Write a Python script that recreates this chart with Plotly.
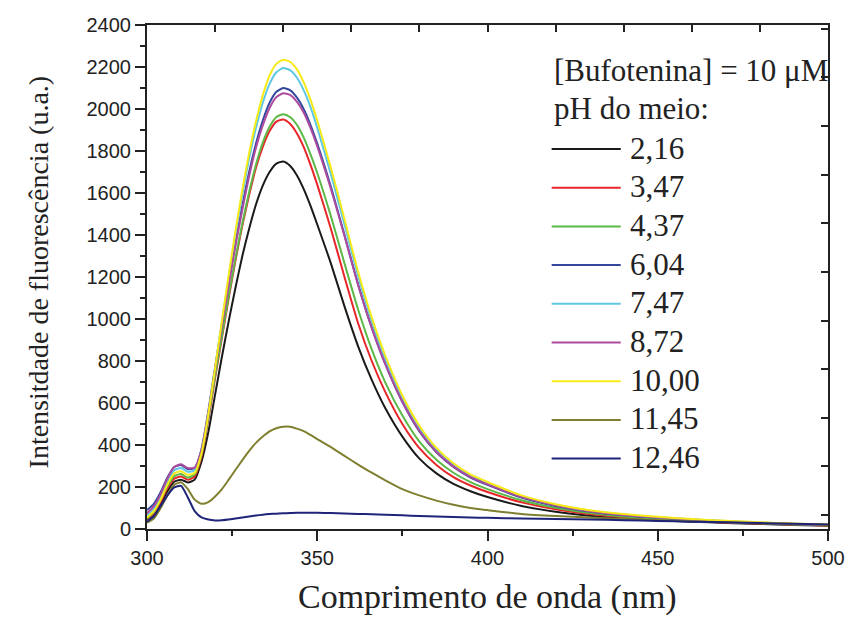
import plotly.graph_objects as go

wavelength = [300, 302, 304, 306, 308, 310, 312, 314, 316, 318, 320, 322, 324, 326, 328, 330,
              332, 334, 336, 338, 340, 342, 344, 346, 348, 350, 354, 358, 362, 366, 370, 375,
              380, 385, 390, 395, 400, 410, 420, 430, 440, 450, 460, 470, 480, 490, 500]

ph_2_16 = [45, 70, 120, 180, 225, 235, 222, 235, 320, 460, 640, 820, 990, 1150, 1300, 1430,
           1545, 1635, 1700, 1740, 1750, 1730, 1685, 1620, 1540, 1450, 1265, 1060, 870, 710, 575, 440,
           335, 265, 215, 180, 152, 110, 82, 63, 50, 42, 35, 29, 24, 19, 15]
ph_3_47 = [48, 75, 130, 195, 240, 250, 235, 250, 345, 520, 720, 910, 1100, 1280, 1445, 1590,
           1720, 1820, 1895, 1940, 1950, 1930, 1885, 1820, 1735, 1640, 1430, 1200, 980, 800, 652, 500,
           385, 305, 247, 207, 176, 127, 94, 71, 56, 46, 38, 31, 26, 21, 17]
ph_4_37 = [50, 80, 140, 205, 252, 262, 245, 260, 355, 530, 730, 920, 1110, 1290, 1455, 1605,
           1735, 1840, 1915, 1962, 1975, 1962, 1925, 1865, 1785, 1695, 1490, 1265, 1045, 855, 697, 540,
           416, 330, 268, 223, 190, 137, 101, 76, 60, 49, 40, 33, 27, 22, 18]
ph_6_04 = [90, 120, 175, 245, 295, 305, 285, 290, 380, 560, 770, 975, 1175, 1365, 1540, 1700,
           1835, 1945, 2030, 2082, 2100, 2090, 2055, 2000, 1925, 1835, 1630, 1400, 1165, 960, 785, 605,
           465, 365, 295, 245, 210, 150, 110, 83, 65, 53, 44, 36, 29, 23, 19]
ph_7_47 = [65, 95, 150, 225, 280, 290, 272, 280, 370, 550, 765, 985, 1200, 1405, 1595, 1765,
           1910, 2030, 2120, 2175, 2195, 2185, 2150, 2090, 2010, 1910, 1690, 1450, 1205, 990, 808, 622,
           480, 377, 305, 254, 218, 156, 115, 87, 69, 56, 46, 38, 31, 25, 20]
ph_8_72 = [75, 108, 165, 240, 295, 308, 290, 292, 375, 550, 760, 965, 1160, 1350, 1520, 1680,
           1815, 1922, 2005, 2057, 2075, 2067, 2035, 1983, 1910, 1822, 1620, 1395, 1162, 958, 785, 607,
           468, 368, 298, 248, 213, 153, 113, 85, 67, 55, 45, 37, 30, 24, 19]
ph_10_00 = [55, 85, 140, 212, 265, 275, 258, 268, 360, 545, 765, 990, 1210, 1420, 1615, 1790,
            1940, 2065, 2160, 2215, 2235, 2225, 2190, 2128, 2045, 1945, 1720, 1475, 1225, 1008, 825, 636,
            492, 386, 313, 260, 224, 160, 118, 89, 71, 58, 48, 39, 32, 26, 21]
ph_11_45 = [30, 50, 100, 160, 210, 222, 190, 140, 120, 128, 155, 190, 235, 282, 328, 372,
            410, 440, 465, 480, 487, 487, 478, 466, 448, 428, 390, 348, 307, 268, 232, 190,
            160, 135, 115, 100, 90, 72, 62, 55, 48, 42, 37, 32, 28, 24, 20]
ph_12_46 = [35, 60, 110, 160, 198, 205, 150, 85, 55, 45, 41, 42, 45, 50, 55, 60,
            64, 68, 71, 73, 75, 76, 77, 77, 77, 77, 76, 74, 72, 70, 68, 65,
            62, 60, 57, 55, 53, 50, 48, 45, 42, 38, 35, 32, 28, 25, 22]

series_labels = ["2,16", "3,47", "4,37", "6,04", "7,47", "8,72", "10,00", "11,45", "12,46"]
series_values = [ph_2_16, ph_3_47, ph_4_37, ph_6_04, ph_7_47, ph_8_72, ph_10_00, ph_11_45, ph_12_46]
series_colors = ["#1a1a1a", "#e8262a", "#5cb947", "#34489e", "#5ec7e6",
                 "#ad4c9f", "#f7eb17", "#7f7f30", "#1f2478"]

legend_header = ["[Bufotenina] = 10 μM", "pH do meio:"]
x_title = "Comprimento de onda (nm)"
y_title = "Intensitdade de fluorescência (u.a.)"

W, H = 857, 617
L, R, T, B = 147, 20, 25, 88
PW, PH = W - L - R, H - T - B

def px(xp):
    return (xp - L) / PW

def py(yp):
    return (H - B - yp) / PH

fig = go.Figure()
for lab, vals, col in zip(series_labels, series_values, series_colors):
    fig.add_trace(go.Scatter(x=wavelength, y=vals, mode="lines", name=lab,
                             line=dict(color=col, width=2, shape="spline", smoothing=0.6),
                             showlegend=False, hoverinfo="skip"))
fig.add_trace(go.Scatter(x=[], y=[], xaxis="x2", yaxis="y2", showlegend=False))

axis_col = "#222222"
tickfont = dict(family="Liberation Sans, Arial, sans-serif", size=20, color="#222")
serif = "Liberation Serif"

fig.update_layout(
    width=W, height=H, margin=dict(l=L, r=R, t=T, b=B),
    paper_bgcolor="white", plot_bgcolor="white",
    xaxis=dict(range=[300, 500], tick0=300, dtick=50, ticks="outside", ticklen=10, tickwidth=2,
               tickcolor=axis_col, showline=True, linewidth=2, linecolor=axis_col,
               showgrid=False, zeroline=False, tickfont=tickfont,
               minor=dict(dtick=25, ticks="outside", ticklen=5, tickwidth=2, tickcolor=axis_col)),
    yaxis=dict(range=[0, 2400], tick0=0, dtick=200, ticks="outside", ticklen=10, tickwidth=2,
               tickcolor=axis_col, showline=True, linewidth=2, linecolor=axis_col,
               showgrid=False, zeroline=False, tickfont=tickfont,
               minor=dict(dtick=100, ticks="outside", ticklen=5, tickwidth=2, tickcolor=axis_col)),
    xaxis2=dict(overlaying="x", side="top", range=[300, 500], tick0=300, dtick=20,
                ticks="inside", ticklen=7, tickwidth=2, tickcolor=axis_col,
                showline=True, linewidth=2, linecolor=axis_col, showticklabels=False,
                showgrid=False, zeroline=False),
    yaxis2=dict(overlaying="y", side="right", range=[-0.29, 10.08], tick0=0, dtick=1,
                ticks="inside", ticklen=7, tickwidth=2, tickcolor=axis_col,
                showline=True, linewidth=2, linecolor=axis_col, showticklabels=False,
                showgrid=False, zeroline=False),
)

ann = []
ann.append(dict(text=x_title, x=px(492), y=py(597), xref="paper", yref="paper",
                xanchor="center", yanchor="middle", showarrow=False,
                font=dict(family=serif, size=34, color="#222")))
ann.append(dict(text=y_title, x=px(37), y=py(272), xref="paper", yref="paper",
                xanchor="center", yanchor="middle", showarrow=False, textangle=-90,
                font=dict(family=serif, size=28, color="#222")))

legend_font = dict(family=serif, size=31, color="#222")
header_y = [70, 109]
for txt, yy in zip(legend_header, header_y):
    ann.append(dict(text=txt, x=px(557), y=py(yy), xref="paper", yref="paper",
                    xanchor="left", yanchor="middle", showarrow=False, font=legend_font))

shapes = []
for i, (lab, col) in enumerate(zip(series_labels, series_colors)):
    yy = 149 + i * 38.7
    shapes.append(dict(type="line", xref="paper", yref="paper", x0=px(557), x1=px(627),
                       y0=py(yy), y1=py(yy), line=dict(color=col, width=2)))
    ann.append(dict(text=lab, x=px(634), y=py(yy - 1), xref="paper", yref="paper",
                    xanchor="left", yanchor="middle", showarrow=False, font=legend_font))

fig.update_layout(annotations=ann, shapes=shapes)
fig.write_html("out.html")
